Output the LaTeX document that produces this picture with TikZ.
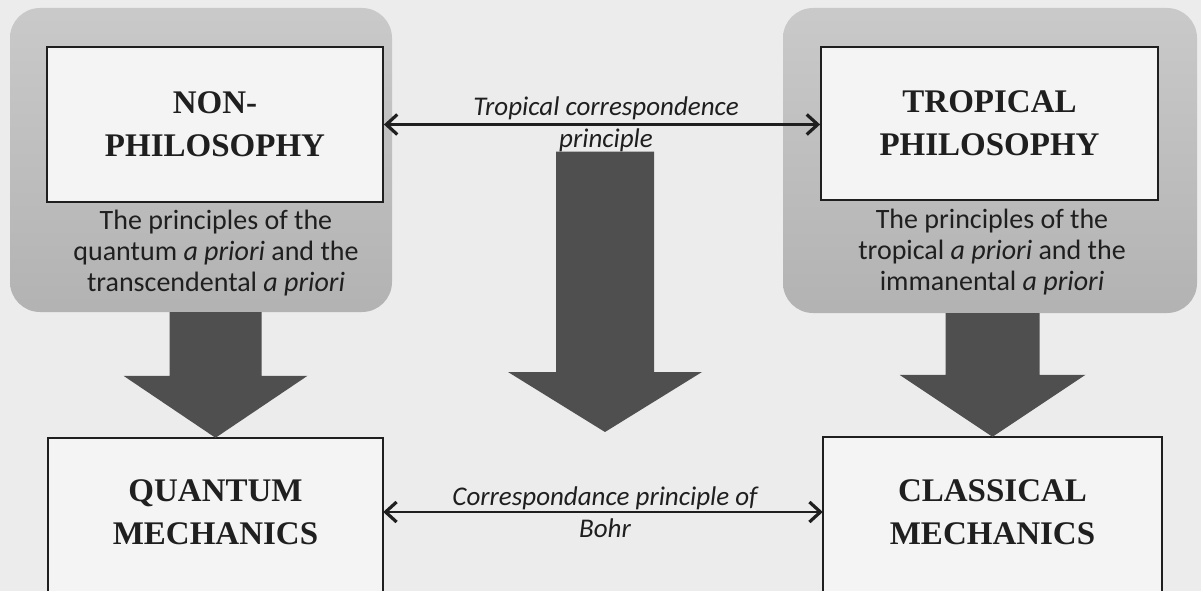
\documentclass[tikz,border=0pt]{standalone}
\usepackage{fontspec}
\setmainfont{Carlito}
\newfontfamily\headfont{Liberation Serif}
\usetikzlibrary{calc,arrows.meta}
\definecolor{bgc}{gray}{0.925}
\definecolor{boxc}{gray}{0.955}
\definecolor{greytop}{gray}{0.79}
\definecolor{greybot}{gray}{0.70}
\definecolor{arrowc}{gray}{0.31}
\definecolor{txtc}{gray}{0.12}
\tikzset{
  greybox/.style={rounded corners=30pt, top color=greytop, bottom color=greybot, draw=none, inner sep=0pt},
  whitebox/.style={draw=txtc, line width=1.8pt, fill=boxc, inner sep=0pt, align=center,
    font=\headfont\bfseries\fontsize{33}{43}\selectfont, text=txtc},
  sizer/.style={inner sep=0pt, draw=none},
  openbox/.style={draw=txtc, line width=1.8pt, fill=boxc},
  headtext/.style={inner sep=0pt, align=center, font=\headfont\bfseries\fontsize{33}{43}\selectfont, text=txtc},
  greytext/.style={inner sep=0pt, align=center, font=\fontsize{28}{31}\selectfont, text=txtc},
  linklabel/.style={inner sep=0pt, align=center, font=\itshape\fontsize{27}{32}\selectfont, text=txtc},
  dblarrow/.style={draw=txtc, line width=2.4pt, {Straight Barb[length=11pt,width=20pt,line width=3.2pt]}-{Straight Barb[length=11pt,width=20pt,line width=3.2pt]}},
  barrow/.style={fill=arrowc}
}
\newcommand\bigarr[5]{%
  \fill[barrow] ($(#2|-#1)+(-#3,0)$) -- ($(#2|-#1)+(#3,0)$) -- ($(#2)+(#3,-#5)$) --
    ($(#2)+(#4,-#5)$) -- (#2) -- ($(#2)+(-#4,-#5)$) -- ($(#2)+(-#3,-#5)$) -- cycle;}
\begin{document}
\begin{tikzpicture}[x=1pt,y=-1pt]
\useasboundingbox (0,0) rectangle (1201,591);
\clip (0,0) rectangle (1201,591);
\fill[bgc] (0,0) rectangle (1201,591);

% grey frames
\node[greybox, minimum width=382pt, minimum height=304pt] (gL) at (201,160) {};
\node[greybox, minimum width=414pt, minimum height=305pt] (gR) at (990,160.5) {};

% top boxes
\node[whitebox, minimum width=336pt, minimum height=155pt] (np) at (215,124.5) {NON-\\PHILOSOPHY};
\node[whitebox, minimum width=337pt, minimum height=153pt] (tp) at (989.5,123.5) {TROPICAL\\PHILOSOPHY};

% grey texts
\node[greytext] (gtL) at (216,253) {The principles of the\\quantum \textit{a priori} and the\\transcendental \textit{a priori}};
\node[greytext] (gtR) at (992,252) {The principles of the\\tropical \textit{a priori} and the\\immanental \textit{a priori}};

% bottom boxes (cut by the lower edge of the picture)
\node[sizer, minimum width=335pt, minimum height=148pt] (qm) at (215.5,512) {};
\node[sizer, minimum width=339pt, minimum height=150pt] (cm) at (992.5,512) {};
\path[openbox] (qm.north west) rectangle ($(qm.south east)+(0,40)$);
\path[openbox] (cm.north west) rectangle ($(cm.south east)+(0,40)$);
\node[headtext] (qmt) at (qm.center) {QUANTUM\\MECHANICS};
\node[headtext] (cmt) at (cm.center) {CLASSICAL\\MECHANICS};

% link labels
\node[linklabel] (tcp) at (606,124) {Tropical correspondence\\principle};
\node[linklabel] (cpb) at (605,512) {Correspondance principle of\\Bohr};

% double arrows
\draw[dblarrow] (np.east) -- (np.east -| tp.west);
\draw[dblarrow] (qm.east) -- (qm.east -| cm.west);

% block arrows
\coordinate (mtip) at (605,432);
\bigarr{gL.south}{qm.north}{46}{92}{62}
\bigarr{tcp.south}{mtip}{49}{97}{60}
\bigarr{gR.south}{cm.north}{47}{93}{62}
\end{tikzpicture}
\end{document}
